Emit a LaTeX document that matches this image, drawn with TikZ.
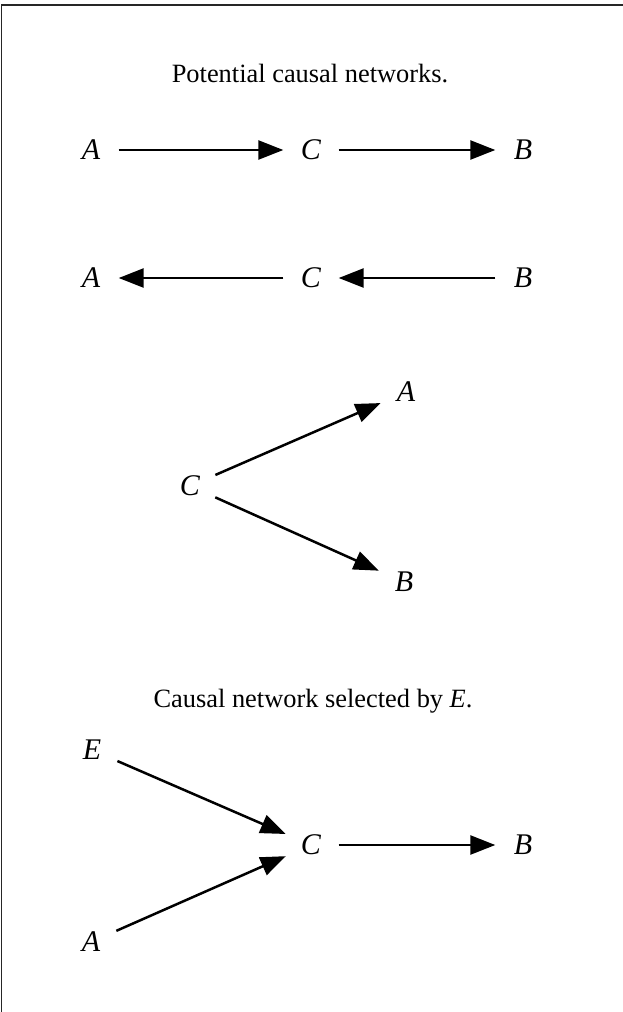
\documentclass[tikz,border=0pt]{standalone}
\usepackage{fontspec}
\setmainfont{Liberation Serif}
\usetikzlibrary{arrows.meta}
\begin{document}
\begin{tikzpicture}[x=1bp,y=-1bp,
  var/.style={circle,minimum size=55bp,inner sep=0pt,font=\fontsize{30bp}{34bp}\selectfont\itshape},
  ttl/.style={anchor=base,inner sep=0pt,font=\fontsize{26.4bp}{30bp}\selectfont},
  arr/.style={line width=2.5bp,-{Triangle[length=25bp,width=19bp]}},
  frame/.style={line width=1.5bp,draw=black!85}]
\useasboundingbox (0,0) rectangle (623,1012);
\draw[frame] (1.5,1012) -- (1.5,5) -- (623,5);
% title 1
\node[ttl] (t1) at (310,82) {Potential causal networks.};
% row 1
\node[var] (a1) at (91,150) {A};
\node[var] (c1) at (311,150) {C};
\node[var] (b1) at (523,150) {B};
\draw[arr] (a1) -- (c1);
\draw[arr] (c1) -- (b1);
% row 2
\node[var] (a2) at (91,278) {A};
\node[var] (c2) at (311,278) {C};
\node[var] (b2) at (523,278) {B};
\draw[arr] (c2) -- (a2);
\draw[arr] (b2) -- (c2);
% row 3
\node[var] (c3) at (190,486) {C};
\node[var] (a3) at (406,392) {A};
\node[var] (b3) at (404,582) {B};
\draw[arr] (c3) -- (a3);
\draw[arr] (c3) -- (b3);
% title 2
\node[ttl] (t2) at (313,707) {Causal network selected by \textit{E}.};
% bottom
\node[var] (e4) at (92,750) {E};
\node[var] (a4) at (91,942) {A};
\node[var] (c4) at (311,845) {C};
\node[var] (b4) at (523,845) {B};
\draw[arr] (e4) -- (c4);
\draw[arr] (a4) -- (c4);
\draw[arr] (c4) -- (b4);
\end{tikzpicture}
\end{document}
